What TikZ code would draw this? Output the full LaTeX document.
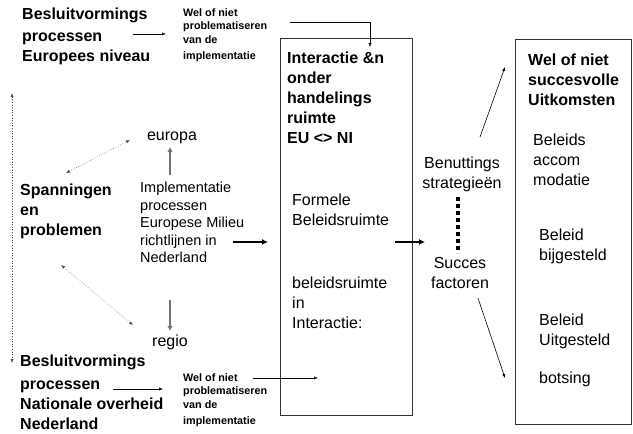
\documentclass[tikz,border=0pt]{standalone}
\usepackage{fontspec}
\setmainfont{Liberation Sans}
\usetikzlibrary{arrows.meta}
\begin{document}
\begin{tikzpicture}[x=1pt,y=-1pt,
  txt/.style={anchor=north west,inner sep=0pt,align=left},
  bigbold/.style={txt,font=\fontsize{16}{20}\selectfont\bfseries},
  bigreg/.style={txt,font=\fontsize{16}{20}\selectfont},
  midreg/.style={txt,font=\fontsize{14.5}{17.5}\selectfont},
  smallbold/.style={txt,font=\fontsize{10.8}{13.5}\selectfont\bfseries},
  frame/.style={draw=black!80,line width=0.9pt,inner sep=0pt},
  thinarrow/.style={draw=black,line width=0.6pt,-{Latex[length=4pt,width=3.2pt]}},
  thickarrow/.style={draw=black,line width=2.2pt,-{Latex[length=6pt,width=6pt]}},
  grayarrow/.style={draw=black!55,line width=1.5pt,-{Latex[length=5pt,width=5.5pt]}},
  dotarrow/.style={draw=black!70,line width=0.6pt,dotted,{Latex[length=4pt,width=3.2pt]}-{Latex[length=4pt,width=3.2pt]}},
  squares/.style={draw=black,line width=4.2pt,dash pattern=on 4pt off 3pt},
]
\useasboundingbox[fill=white] (0,0) rectangle (633,434);

% ---- frames ----
\node[frame,minimum width=132pt,minimum height=377pt] (box1) at (346,226.5) {};
\node[frame,minimum width=116pt,minimum height=385pt] (box2) at (573,231.5) {};

% ---- left column ----
\node[bigbold] (eutitle) at (22,8) {Besluitvormings\\[1.5pt]processen\\Europees niveau};
\node[smallbold] (eusmall) at (183,8) {Wel of niet\\problematiseren\\van de\\[3pt]implementatie};

\node[bigreg,anchor=center] (europa) at (172,138) {europa};
\node[bigbold] (span) at (20,184) {Spanningen\\en\\problemen};
\node[midreg] (impl) at (140,182) {Implementatie\\processen\\Europese Milieu\\richtlijnen in\\Nederland};
\node[bigreg,anchor=center] (regio) at (170,342) {regio};

\node[bigbold] (nltitle) at (20,355) {Besluitvormings\\[3pt]processen\\Nationale overheid\\Nederland};
\node[smallbold] (nlsmall) at (183,373) {Wel of niet\\problematiseren\\van de\\[3pt]implementatie};

% ---- middle frame text ----
\node[bigbold] (inter) at (287,52) {Interactie \&n\\onder\\handelings\\ruimte\\EU <> NI};
\node[bigreg] (formeel) at (292,194) {Formele\\Beleidsruimte};
\node[bigreg] (binter) at (292,277) {beleidsruimte\\in\\Interactie:};

% ---- between frames ----
\node[bigreg,align=center,anchor=north] (benut) at (462,157) {Benuttings\\strategieën};
\node[bigreg,align=center,anchor=north] (succes) at (460,257) {Succes\\factoren};

% ---- right frame text ----
\node[bigbold] (uitk) at (528,54) {Wel of niet\\succesvolle\\Uitkomsten};
\node[bigreg] (accom) at (533,134) {Beleids\\accom\\modatie};
\node[bigreg] (bijg) at (539,229) {Beleid\\bijgesteld};
\node[bigreg] (uitg) at (539,314) {Beleid\\Uitgesteld};
\node[bigreg] (bots) at (539,372) {botsing};

% ---- connector end points ----
\coordinate (euA) at (133,34);
\coordinate (euB) at (166,34);
\coordinate (topA) at (290,22);
\coordinate (topB) at (370,47);
\coordinate (nlA) at (113,389);
\coordinate (nlB) at (163,389);
\coordinate (nsA) at (253,378);
\coordinate (nsB) at (318,378);
\coordinate (vA) at (12,93);
\coordinate (vB) at (12,363);
\coordinate (spA) at (66,173);
\coordinate (euC) at (130,140);
\coordinate (spB) at (61,265);
\coordinate (rgC) at (133,325);
\coordinate (imA) at (233,242);
\coordinate (imB) at (268,242);
\coordinate (imU) at (170,175);
\coordinate (euU) at (170,147);
\coordinate (imD) at (170,300);
\coordinate (rgD) at (170,331);
\coordinate (b1A) at (395,242);
\coordinate (b1B) at (425,242);
\coordinate (sqA) at (458,197);
\coordinate (sqB) at (458,253);
\coordinate (upA) at (480,137);
\coordinate (upB) at (505,67);
\coordinate (dnA) at (478,298);
\coordinate (dnB) at (505,378);

% ---- connectors ----
\draw[thinarrow] (euA) -- (euB);
\draw[thinarrow] (topA) -| (topB);
\draw[thinarrow] (nlA) -- (nlB);
\draw[thinarrow] (nsA) -- (nsB);
\draw[dotarrow] (vA) -- (vB);
\draw[dotarrow] (spA) -- (euC);
\draw[dotarrow] (spB) -- (rgC);
\draw[grayarrow] (imU) -- (euU);
\draw[grayarrow] (imD) -- (rgD);
\draw[thickarrow] (imA) -- (imB);
\draw[thickarrow] (b1A) -- (b1B);
\draw[squares] (sqA) -- (sqB);
\draw[thinarrow] (upA) -- (upB);
\draw[thinarrow] (dnA) -- (dnB);
\end{tikzpicture}
\end{document}
